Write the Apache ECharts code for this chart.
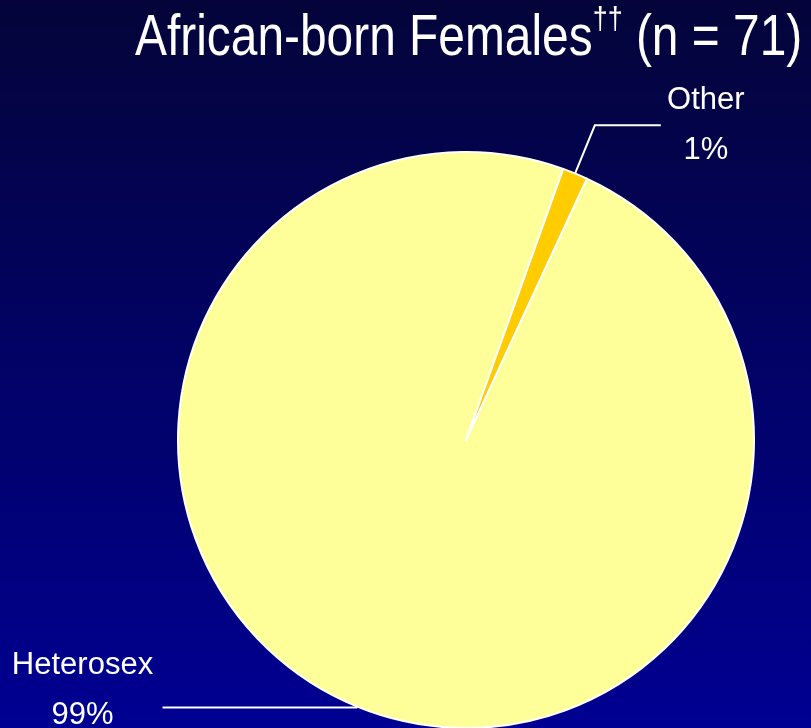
<!DOCTYPE html>
<html>
<head>
<meta charset="utf-8">
<script src="https://cdn.jsdelivr.net/npm/echarts@6/dist/echarts.min.js"></script>
<style>
  html, body { margin: 0; padding: 0; }
  #chart { width: 811px; height: 728px; }
</style>
</head>
<body>
<div id="chart"></div>
<script>
// values
const categories = ['Heterosex', 'Other']
const counts = [70, 1]
const percentLabels = ['99%', '1%']
const sliceColors = ['#ffff99', '#ffcc00']
const titleText = 'African-born Females{sup|††} (n = 71)'

const chart = echarts.init(document.getElementById('chart'))

const labelFont = 'Liberation Sans, Arial, sans-serif'

function labelRich(w) {
  return { a: { width: w, align: 'center', color: '#fff', fontSize: 31, lineHeight: 50, fontFamily: labelFont } }
}

const option = {
  backgroundColor: {
    type: 'linear', x: 0, y: 0, x2: 0, y2: 1,
    colorStops: [
      { offset: 0, color: '#04043a' },
      { offset: 1, color: '#000092' }
    ]
  },
  // the slide title is a tall, condensed face: squeeze it horizontally
  graphic: [{
    type: 'text',
    x: 135,
    y: 4,
    scaleX: 0.84,
    style: {
      text: titleText,
      fill: '#ffffff',
      fontFamily: labelFont,
      fontSize: 57,
      lineHeight: 70,
      rich: {
        sup: { fill: '#ffffff', fontFamily: labelFont, fontSize: 32, lineHeight: 70, verticalAlign: 'top' }
      }
    }
  }],
  series: [{
    type: 'pie',
    center: [466, 440],
    radius: 288,
    startAngle: 65.2,
    clockwise: true,
    avoidLabelOverlap: false,
    animation: false,
    itemStyle: { borderColor: '#ffffff', borderWidth: 2 },
    label: {
      show: true,
      position: 'outside',
      color: '#ffffff',
      fontFamily: labelFont,
      fontSize: 31,
      lineHeight: 50,
      formatter: function (p) {
        return '{a|' + p.name + '}\n{a|' + percentLabels[p.dataIndex] + '}'
      }
    },
    labelLine: {
      show: true,
      lineStyle: { color: '#ffffff', width: 2 }
    },
    data: categories.map(function (name, i) {
      const item = {
        name: name,
        value: counts[i],
        itemStyle: { color: sliceColors[i] }
      }
      if (i === 0) {
        item.labelLine = { length: 1, length2: 194 }
        item.label = { padding: [0, 0, 34, 0], rich: labelRich(150) }
      } else {
        item.labelLine = { length: 52, length2: 66 }
        item.label = { rich: labelRich(80) }
      }
      return item
    })
  }]
}

chart.setOption(option)
</script>
</body>
</html>
